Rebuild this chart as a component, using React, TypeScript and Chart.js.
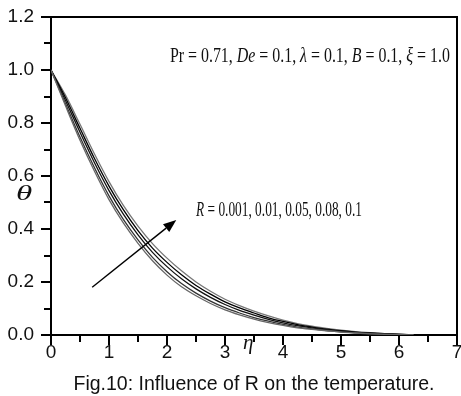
import React, { useEffect, useRef } from "react";
import { Chart, registerables } from "chart.js";

Chart.register(...registerables);

const eta = [0, 0.25, 0.5, 0.75, 1, 1.25, 1.5, 1.75, 2, 2.25, 2.5, 2.75, 3, 3.25, 3.5, 3.75, 4, 4.25, 4.5, 4.75, 5, 5.25, 5.5, 5.75, 6, 6.25];

const thetaR0001 = [1.0, 0.865, 0.735, 0.618, 0.511, 0.422, 0.346, 0.28, 0.226, 0.182, 0.148, 0.119, 0.095, 0.076, 0.06, 0.047, 0.036, 0.027, 0.021, 0.016, 0.011, 0.0075, 0.0045, 0.0025, 0.001, 0.0005];
const thetaR001 = [1.0, 0.873, 0.747, 0.631, 0.525, 0.435, 0.359, 0.293, 0.239, 0.194, 0.158, 0.128, 0.103, 0.083, 0.066, 0.052, 0.04, 0.03, 0.023, 0.017, 0.012, 0.0085, 0.0053, 0.0031, 0.0014, 0.0005];
const thetaR005 = [1.0, 0.885, 0.765, 0.65, 0.545, 0.455, 0.378, 0.312, 0.258, 0.212, 0.174, 0.142, 0.115, 0.093, 0.075, 0.059, 0.046, 0.035, 0.027, 0.02, 0.0145, 0.01, 0.0065, 0.004, 0.002, 0.0005];
const thetaR008 = [1.0, 0.895, 0.78, 0.666, 0.562, 0.472, 0.394, 0.328, 0.274, 0.227, 0.187, 0.154, 0.125, 0.102, 0.083, 0.065, 0.051, 0.039, 0.03, 0.022, 0.016, 0.011, 0.0075, 0.0048, 0.0025, 0.0005];
const thetaR01 = [1.0, 0.905, 0.795, 0.683, 0.579, 0.488, 0.411, 0.345, 0.29, 0.242, 0.2, 0.165, 0.135, 0.111, 0.09, 0.072, 0.056, 0.043, 0.033, 0.025, 0.018, 0.0125, 0.0085, 0.0055, 0.003, 0.0005];

const seriesLabels = ["R = 0.001", "R = 0.01", "R = 0.05", "R = 0.08", "R = 0.1"];
const seriesValues = [thetaR0001, thetaR001, thetaR005, thetaR008, thetaR01];
const seriesColors = ["#666666", "#333333", "#111111", "#000000", "#777777"];

const xTicks = [0, 1, 2, 3, 4, 5, 6, 7];
const yTicks = [0, 0.2, 0.4, 0.6, 0.8, 1.0, 1.2];

const captionText = "Fig.10: Influence of R on the temperature.";
const paramSegments: [string, boolean][] = [
  ["Pr = 0.71, ", false],
  ["De", true],
  [" = 0.1, ", false],
  ["\u03bb", true],
  [" = 0.1, ", false],
  ["B", true],
  [" = 0.1, ", false],
  ["\u03be", true],
  [" = 1.0", false],
];
const rSegments: [string, boolean][] = [
  ["R", true],
  [" = 0.001, 0.01, 0.05, 0.08, 0.1", false],
];

function drawSegments(ctx: CanvasRenderingContext2D, segs: [string, boolean][], x: number, y: number, size: number, targetWidth: number) {
  const fontFor = (it: boolean) => `${it ? "italic " : ""}${size}px "Liberation Serif", "Times New Roman", serif`;
  let total = 0;
  for (const [t, it] of segs) {
    ctx.font = fontFor(it);
    total += ctx.measureText(t).width;
  }
  const sx = targetWidth / total;
  ctx.save();
  ctx.translate(x, y);
  ctx.scale(sx, 1);
  ctx.fillStyle = "#111";
  ctx.textBaseline = "alphabetic";
  ctx.textAlign = "left";
  let cx = 0;
  for (const [t, it] of segs) {
    ctx.font = fontFor(it);
    ctx.fillText(t, cx, 0);
    cx += ctx.measureText(t).width;
  }
  ctx.restore();
}

const decorPlugin = {
  id: "decor",
  afterDraw(chart: any) {
    const { ctx, chartArea, scales } = chart;
    const xs = scales.x;
    const ys = scales.y;
    const { left, right, top, bottom } = chartArea;
    ctx.save();
    ctx.strokeStyle = "#000";
    ctx.lineWidth = 2;
    ctx.beginPath();
    ctx.moveTo(left, top);
    ctx.lineTo(right, top);
    ctx.lineTo(right, bottom);
    ctx.stroke();

    // y ticks
    for (let i = 0; i <= 12; i++) {
      const v = i / 10;
      const py = Math.round(ys.getPixelForValue(v));
      const len = i % 2 === 0 ? 10 : 7;
      ctx.beginPath();
      ctx.moveTo(left - len, py);
      ctx.lineTo(left, py);
      ctx.stroke();
    }
    // x ticks
    for (let i = 0; i <= 14; i++) {
      const v = i / 2;
      const px = Math.round(xs.getPixelForValue(v));
      const len = i % 2 === 0 ? 10 : 7;
      ctx.beginPath();
      ctx.moveTo(px, bottom);
      ctx.lineTo(px, bottom + len);
      ctx.stroke();
    }

    // axis symbols
    ctx.fillStyle = "#111";
    ctx.textAlign = "center";
    ctx.textBaseline = "middle";
    ctx.save();
    ctx.translate(24, ys.getPixelForValue(0.53));
    ctx.scale(1.5, 1);
    ctx.font = 'italic 22px "Liberation Serif", "Times New Roman", serif';
    ctx.fillText("\u03b8", 0, 0);
    ctx.restore();
    ctx.font = 'italic 21px "Liberation Serif", "Times New Roman", serif';
    ctx.fillText("\u03b7", xs.getPixelForValue(3.4), bottom + 8);

    // annotations
    drawSegments(ctx, paramSegments, xs.getPixelForValue(2.05), ys.getPixelForValue(1.03), 22, 280);
    drawSegments(ctx, rSegments, xs.getPixelForValue(2.5), ys.getPixelForValue(0.45), 21, 166);

    // arrow
    const x0 = xs.getPixelForValue(0.71);
    const y0 = ys.getPixelForValue(0.18);
    const x1 = xs.getPixelForValue(2.16);
    const y1 = ys.getPixelForValue(0.434);
    const ang = Math.atan2(y1 - y0, x1 - x0);
    const hl = 13;
    const hw = 5;
    const bx = x1 - hl * Math.cos(ang);
    const by = y1 - hl * Math.sin(ang);
    ctx.strokeStyle = "#000";
    ctx.lineWidth = 1.4;
    ctx.beginPath();
    ctx.moveTo(x0, y0);
    ctx.lineTo(bx, by);
    ctx.stroke();
    ctx.fillStyle = "#000";
    ctx.beginPath();
    ctx.moveTo(x1, y1);
    ctx.lineTo(bx + hw * Math.sin(ang), by - hw * Math.cos(ang));
    ctx.lineTo(bx - hw * Math.sin(ang), by + hw * Math.cos(ang));
    ctx.closePath();
    ctx.fill();
    ctx.restore();
  },
};

export default function App() {
  const ref = useRef<HTMLCanvasElement>(null);
  useEffect(() => {
    if (!ref.current) return;
    const tickFont = { family: '"Liberation Sans", Arial, sans-serif', size: 19 };
    const chart = new Chart(ref.current, {
      type: "line",
      data: {
        datasets: seriesValues.map((vals, i) => ({
          label: seriesLabels[i],
          data: eta.map((e, j) => ({ x: e, y: vals[j] })),
          borderColor: seriesColors[i],
          borderWidth: 1.3,
          pointRadius: 0,
          fill: false,
          cubicInterpolationMode: "monotone" as const,
        })),
      },
      options: {
        responsive: false,
        animation: false,
        layout: { padding: { top: 17, right: 4, left: 0, bottom: 0 } },
        plugins: { legend: { display: false }, tooltip: { enabled: false } },
        scales: {
          x: {
            type: "linear",
            min: 0,
            max: 7,
            afterFit: (s: any) => { s.height = 61; s.paddingLeft = 0; s.paddingRight = 0; s.paddingTop = 0; s.paddingBottom = 0; },
            afterBuildTicks: (s: any) => { s.ticks = xTicks.map((v) => ({ value: v })); },
            grid: { display: false, drawTicks: false },
            border: { display: true, color: "#000", width: 2 },
            ticks: { font: tickFont, color: "#111", padding: 6, maxRotation: 0 },
            title: {
              display: true,
              text: captionText,
              font: { family: '"Liberation Sans", Arial, sans-serif', size: 19.5 },
              color: "#111",
              padding: { top: 0, bottom: 0 },
            },
          },
          y: {
            type: "linear",
            min: 0,
            max: 1.2,
            afterFit: (s: any) => { s.width = 51; s.paddingTop = 0; s.paddingBottom = 0; s.paddingLeft = 0; s.paddingRight = 0; },
            afterBuildTicks: (s: any) => { s.ticks = yTicks.map((v) => ({ value: v })); },
            grid: { display: false, drawTicks: false },
            border: { display: true, color: "#000", width: 2 },
            ticks: { font: tickFont, color: "#111", padding: 17, callback: (v: any) => Number(v).toFixed(1) },
          },
        },
      },
      plugins: [decorPlugin],
    });
    return () => chart.destroy();
  }, []);
  return (
    <div style={{ position: "absolute", left: 0, top: 0, width: 461, height: 396, background: "#fff" }}>
      <canvas ref={ref} width={461} height={396} style={{ display: "block" }} />
    </div>
  );
}
